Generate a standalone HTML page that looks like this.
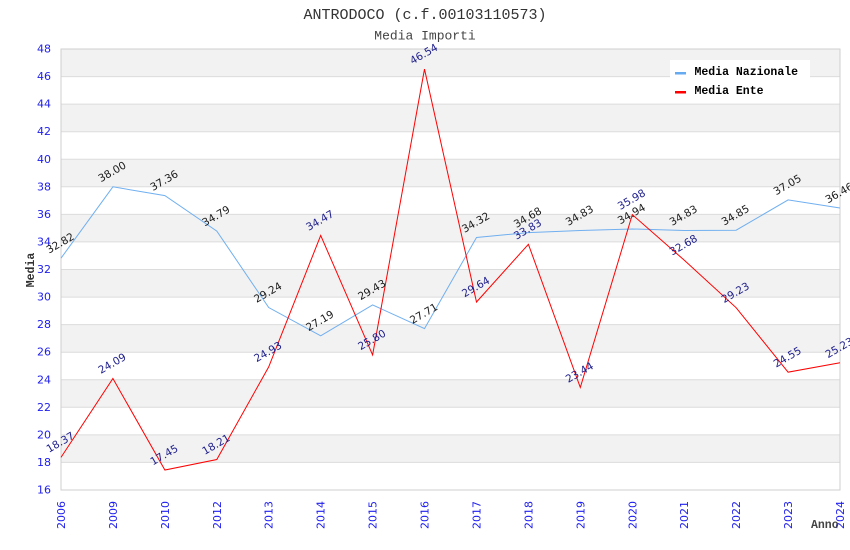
<!DOCTYPE html>
<html><head><meta charset="utf-8"><style>
html,body{margin:0;padding:0;background:#fff;}
svg{display:block;}
.yl{font-family:"DejaVu Sans","Liberation Sans",sans-serif;font-size:11px;fill:#2020ee;}
.dl{font-family:"DejaVu Sans","Liberation Sans",sans-serif;font-size:10.5px;}
.mono{font-family:"Liberation Mono","DejaVu Sans Mono",monospace;}
</style></head><body>
<svg width="850" height="550" viewBox="0 0 850 550" xmlns="http://www.w3.org/2000/svg">
<rect width="850" height="550" fill="#fff"/>
<!-- bands -->
<g fill="#f2f2f2">
<rect x="61" y="49" width="779" height="27.6"/>
<rect x="61" y="104.1" width="779" height="27.6"/>
<rect x="61" y="159.25" width="779" height="27.55"/>
<rect x="61" y="214.4" width="779" height="27.5"/>
<rect x="61" y="269.5" width="779" height="27.6"/>
<rect x="61" y="324.6" width="779" height="27.6"/>
<rect x="61" y="379.75" width="779" height="27.55"/>
<rect x="61" y="434.9" width="779" height="27.5"/>
</g>
<g stroke="#dcdcdc" stroke-width="1">
<line x1="61" x2="840" y1="462.4" y2="462.4"/>
<line x1="61" x2="840" y1="434.9" y2="434.9"/>
<line x1="61" x2="840" y1="407.3" y2="407.3"/>
<line x1="61" x2="840" y1="379.75" y2="379.75"/>
<line x1="61" x2="840" y1="352.2" y2="352.2"/>
<line x1="61" x2="840" y1="324.6" y2="324.6"/>
<line x1="61" x2="840" y1="297.1" y2="297.1"/>
<line x1="61" x2="840" y1="269.5" y2="269.5"/>
<line x1="61" x2="840" y1="241.9" y2="241.9"/>
<line x1="61" x2="840" y1="214.4" y2="214.4"/>
<line x1="61" x2="840" y1="186.8" y2="186.8"/>
<line x1="61" x2="840" y1="159.25" y2="159.25"/>
<line x1="61" x2="840" y1="131.7" y2="131.7"/>
<line x1="61" x2="840" y1="104.1" y2="104.1"/>
<line x1="61" x2="840" y1="76.6" y2="76.6"/>
</g>
<rect x="61" y="49" width="779" height="441" fill="none" stroke="#cfcfcf" stroke-width="1"/>

<!-- y labels -->
<g class="yl" text-anchor="end" dominant-baseline="central">
<text x="51" y="490">16</text>
<text x="51" y="462.4">18</text>
<text x="51" y="434.9">20</text>
<text x="51" y="407.3">22</text>
<text x="51" y="379.75">24</text>
<text x="51" y="352.2">26</text>
<text x="51" y="324.6">28</text>
<text x="51" y="297.1">30</text>
<text x="51" y="269.5">32</text>
<text x="51" y="241.9">34</text>
<text x="51" y="214.4">36</text>
<text x="51" y="186.8">38</text>
<text x="51" y="159.25">40</text>
<text x="51" y="131.7">42</text>
<text x="51" y="104.1">44</text>
<text x="51" y="76.6">46</text>
<text x="51" y="49">48</text>
</g>

<!-- x labels -->
<g class="yl" text-anchor="end">
<text transform="translate(65,501) rotate(-90)">2006</text>
<text transform="translate(116.9,501) rotate(-90)">2009</text>
<text transform="translate(168.9,501) rotate(-90)">2010</text>
<text transform="translate(220.8,501) rotate(-90)">2012</text>
<text transform="translate(272.7,501) rotate(-90)">2013</text>
<text transform="translate(324.7,501) rotate(-90)">2014</text>
<text transform="translate(376.6,501) rotate(-90)">2015</text>
<text transform="translate(428.5,501) rotate(-90)">2016</text>
<text transform="translate(480.5,501) rotate(-90)">2017</text>
<text transform="translate(532.4,501) rotate(-90)">2018</text>
<text transform="translate(584.3,501) rotate(-90)">2019</text>
<text transform="translate(636.3,501) rotate(-90)">2020</text>
<text transform="translate(688.2,501) rotate(-90)">2021</text>
<text transform="translate(740.1,501) rotate(-90)">2022</text>
<text transform="translate(792.1,501) rotate(-90)">2023</text>
<text transform="translate(844,501) rotate(-90)">2024</text>
</g>

<!-- lines -->
<polyline fill="none" stroke="#70aff0" stroke-width="1" points="61,258.2 112.9,186.81 164.9,195.63 216.8,231.05 268.7,307.54 320.7,335.79 372.6,304.92 424.5,328.62 476.5,237.53 528.4,232.57 580.3,230.5 632.3,228.98 684.2,230.5 736.1,230.22 788.1,199.91 840,208.04"/>
<polyline fill="none" stroke="#ff0000" stroke-width="1" points="61,457.34 112.9,378.51 164.9,470.02 216.8,459.54 268.7,366.93 320.7,235.46 372.6,354.94 424.5,69.12 476.5,302.02 528.4,244.28 580.3,387.47 632.3,214.65 684.2,260.13 736.1,307.67 788.1,372.17 840,362.8"/>

<!-- national labels -->
<g class="dl" fill="#1a1a1a" text-anchor="middle">
<text transform="translate(62,246.2) rotate(-30)">32.82</text>
<text transform="translate(113.9,174.8) rotate(-30)">38.00</text>
<text transform="translate(165.9,183.6) rotate(-30)">37.36</text>
<text transform="translate(217.8,219) rotate(-30)">34.79</text>
<text transform="translate(269.7,295.5) rotate(-30)">29.24</text>
<text transform="translate(321.7,323.8) rotate(-30)">27.19</text>
<text transform="translate(373.6,292.9) rotate(-30)">29.43</text>
<text transform="translate(425.5,316.6) rotate(-30)">27.71</text>
<text transform="translate(477.5,225.5) rotate(-30)">34.32</text>
<text transform="translate(529.4,220.6) rotate(-30)">34.68</text>
<text transform="translate(581.3,218.5) rotate(-30)">34.83</text>
<text transform="translate(633.3,217) rotate(-30)">34.94</text>
<text transform="translate(685.2,218.5) rotate(-30)">34.83</text>
<text transform="translate(737.1,218.2) rotate(-30)">34.85</text>
<text transform="translate(789.1,187.9) rotate(-30)">37.05</text>
<text transform="translate(841,196) rotate(-30)">36.46</text>
</g>
<!-- ente labels -->
<g class="dl" fill="#1c1c8c" text-anchor="middle">
<text transform="translate(62,445.3) rotate(-30)">18.37</text>
<text transform="translate(113.9,366.5) rotate(-30)">24.09</text>
<text transform="translate(165.9,458) rotate(-30)">17.45</text>
<text transform="translate(217.8,447.5) rotate(-30)">18.21</text>
<text transform="translate(269.7,354.9) rotate(-30)">24.93</text>
<text transform="translate(321.7,223.5) rotate(-30)">34.47</text>
<text transform="translate(373.6,342.9) rotate(-30)">25.80</text>
<text transform="translate(425.5,57.1) rotate(-30)">46.54</text>
<text transform="translate(477.5,290) rotate(-30)">29.64</text>
<text transform="translate(529.4,232.3) rotate(-30)">33.83</text>
<text transform="translate(581.3,375.5) rotate(-30)">23.44</text>
<text transform="translate(633.3,202.6) rotate(-30)">35.98</text>
<text transform="translate(685.2,248.1) rotate(-30)">32.68</text>
<text transform="translate(737.1,295.7) rotate(-30)">29.23</text>
<text transform="translate(789.1,360.2) rotate(-30)">24.55</text>
<text transform="translate(841,350.8) rotate(-30)">25.23</text>
</g>

<!-- legend -->
<rect x="670" y="60" width="140" height="40" fill="#fff"/>
<rect x="675" y="72" width="11" height="2.5" fill="#66aaf0"/>
<rect x="675" y="91" width="11" height="2.5" fill="#ff0000"/>
<text class="mono" x="694.5" y="75" font-size="11.5" font-weight="bold" fill="#000">Media Nazionale</text>
<text class="mono" x="694.5" y="94" font-size="11.5" font-weight="bold" fill="#000">Media Ente</text>

<!-- titles -->
<text class="mono" x="425" y="19" font-size="15" fill="#333" text-anchor="middle">ANTRODOCO (c.f.00103110573)</text>
<text class="mono" x="425" y="39.5" font-size="13" fill="#444" text-anchor="middle">Media Importi</text>

<!-- axis titles -->
<text class="mono" transform="translate(34,270) rotate(-90)" font-size="11.5" font-weight="bold" fill="#333" text-anchor="middle">Media</text>
<text class="mono" x="811" y="528" font-size="11.5" font-weight="bold" fill="#444">Anno</text>
</svg>
</body></html>
